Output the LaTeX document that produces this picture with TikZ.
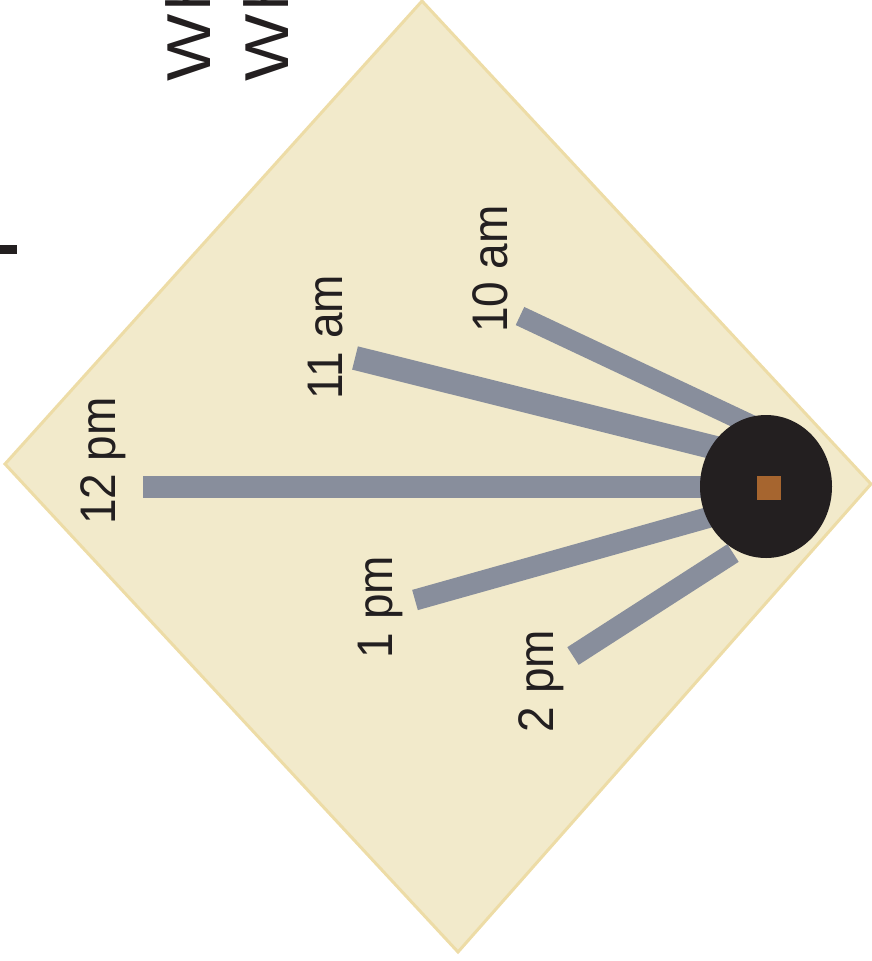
\documentclass[tikz,border=0pt]{standalone}
\usepackage{fontspec}
\setmainfont{Liberation Sans}
\definecolor{paper}{HTML}{F2EACB}
\definecolor{paperedge}{HTML}{EDDCA6}
\definecolor{barcol}{HTML}{888E9C}
\definecolor{ink}{HTML}{231F20}
\definecolor{gnomon}{HTML}{A6652F}
\tikzset{
  hourbar/.style={draw=barcol, line width=22pt, line cap=butt},
  hourlabel/.style={rotate=90, anchor=base, inner sep=0pt, text=ink, font=\fontsize{50}{50}\selectfont},
  titletext/.style={rotate=90, anchor=base west, inner sep=0pt, text=ink, font=\fontsize{62}{62}\selectfont}
}
\begin{document}
\begin{tikzpicture}[x=1pt, y=-1pt]
\useasboundingbox (0,0) rectangle (872,961);
% diamond plate
\draw[fill=paper, draw=paperedge, line width=3pt, line join=miter]
  (5,464) -- (422,1) -- (871,484) -- (458,952) -- cycle;
% bar end points
\coordinate (e12) at (143,487);
\coordinate (i12) at (760,487);
\coordinate (e11) at (355,358);
\coordinate (i11) at (760,459);
\coordinate (e10) at (520,316);
\coordinate (i10) at (760,429);
\coordinate (e1) at (415,600);
\coordinate (i1) at (760,503);
\coordinate (e2) at (573,656);
\coordinate (i2) at (733,553);
\draw[hourbar] (e12) -- (i12);
\draw[hourbar, line width=24pt] (e11) -- (i11);
\draw[hourbar, line width=20pt] (e10) -- (i10);
\draw[hourbar, line width=21pt] (e1) -- (i1);
\draw[hourbar, line width=21pt] (e2) -- (i2);
% hub
\coordinate (hub) at (766,486.5);
\fill[ink] (hub) ellipse [x radius=66pt, y radius=71.5pt];
\node[fill=gnomon, minimum size=24pt, inner sep=0pt] (sq) at (769,488) {};
% labels
\node[hourlabel] (l12) at (115,461) {\scalebox{0.92}[1]{12 pm}};
\node[hourlabel] (l11) at (342,337) {\scalebox{0.92}[1]{11 am}};
\node[hourlabel] (l10) at (507,269) {\scalebox{0.92}[1]{10 am}};
\node[hourlabel] (l1) at (392,607) {\scalebox{0.92}[1]{1 pm}};
\node[hourlabel] (l2) at (553,681) {\scalebox{0.92}[1]{2 pm}};
% cut-off title lines
\node[titletext] (t1) at (210,82) {\scalebox{1.15}[1]{W}\kern4pt h};
\node[titletext] (t2) at (288,82) {\scalebox{1.15}[1]{W}\kern4pt h};
% cut-off mark at left
\fill[ink] (0,245) rectangle (17,254);
\end{tikzpicture}
\end{document}
